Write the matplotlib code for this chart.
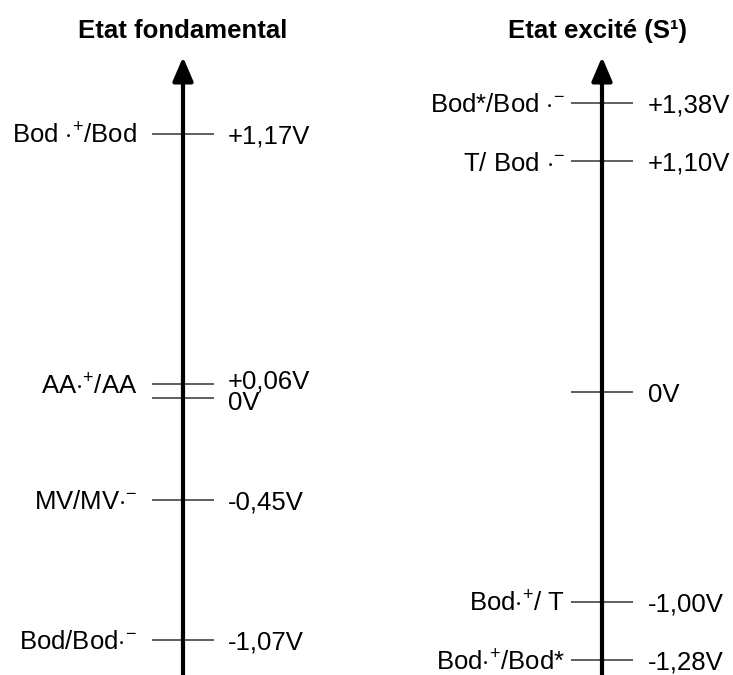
import matplotlib
matplotlib.use("Agg")
import matplotlib.pyplot as plt

plt.rcParams['font.family'] = ['Liberation Sans', 'DejaVu Sans']
plt.rcParams['mathtext.fontset'] = 'custom'
plt.rcParams['mathtext.rm'] = 'Liberation Sans'
plt.rcParams['mathtext.it'] = 'Liberation Sans'
plt.rcParams['mathtext.bf'] = 'Liberation Sans:bold'

# Data
ground_title = "Etat fondamental"
ground_couples = [r"Bod $\cdot^{+}$/Bod", r"AA$\cdot^{+}$/AA", "",
                  r"MV/MV$\cdot^{-}$", r"Bod/Bod$\cdot^{-}$"]
ground_potentials = [1.17, 0.06, 0.0, -0.45, -1.07]
ground_labels = ["+1,17V", "+0,06V", "0V", "-0,45V", "-1,07V"]

excited_title = "Etat excité (S¹)"
excited_couples = [r"Bod*/Bod $\cdot^{-}$", r"T/ Bod $\cdot^{-}$", "",
                   r"Bod$\cdot^{+}$/ T", r"Bod$\cdot^{+}$/Bod*"]
excited_potentials = [1.38, 1.10, 0.0, -1.00, -1.28]
excited_labels = ["+1,38V", "+1,10V", "0V", "-1,00V", "-1,28V"]

W, H = 733, 675
fig = plt.figure(figsize=(W / 100, H / 100), dpi=100)

FS = 18.5


def panel(cx, tx, title, couples, pots, labels, ylim, left_off, right_off, label_dy):
    half = 131
    ax = fig.add_axes([(cx - half) / W, 0, 2 * half / W, 1])
    ax.set_xlim(-half, half)
    ax.set_ylim(*ylim)
    ax.axis('off')
    # axis arrow
    ax.annotate('', xy=(0, 1 - 57 / H), xycoords=('data', 'axes fraction'),
                xytext=(0, 0), textcoords=('data', 'axes fraction'),
                arrowprops=dict(arrowstyle='-|>,head_length=1.45,head_width=0.62',
                                mutation_scale=10, lw=3, color='black',
                                shrinkA=0, shrinkB=0))
    for c, p, l, dy in zip(couples, pots, labels, label_dy):
        ax.plot([-31, 31], [p, p], color='#333333', lw=1.1, solid_capstyle='butt')
        if c:
            ax.text(left_off, p, c, ha='right', va='center_baseline', fontsize=FS)
        ax.annotate(l, xy=(right_off, p), xytext=(0, dy), textcoords='offset pixels',
                    ha='left', va='center_baseline', fontsize=FS)
    fig.text(tx / W, 1 - 31 / H, title, ha='center', va='center',
             fontsize=FS, fontweight='bold')
    return ax


panel(183, 183, ground_title, ground_couples, ground_potentials, ground_labels,
      (-(675 - 398) / 226, 398 / 226), -46, 45, [0, 5, -3, 0, 0])
panel(602, 598, excited_title, excited_couples, excited_potentials, excited_labels,
      (-(675 - 392) / 209.7, 392 / 209.7), -37, 46, [0, 0, 0, 0, 0])

fig.savefig("out.png", dpi=100)
